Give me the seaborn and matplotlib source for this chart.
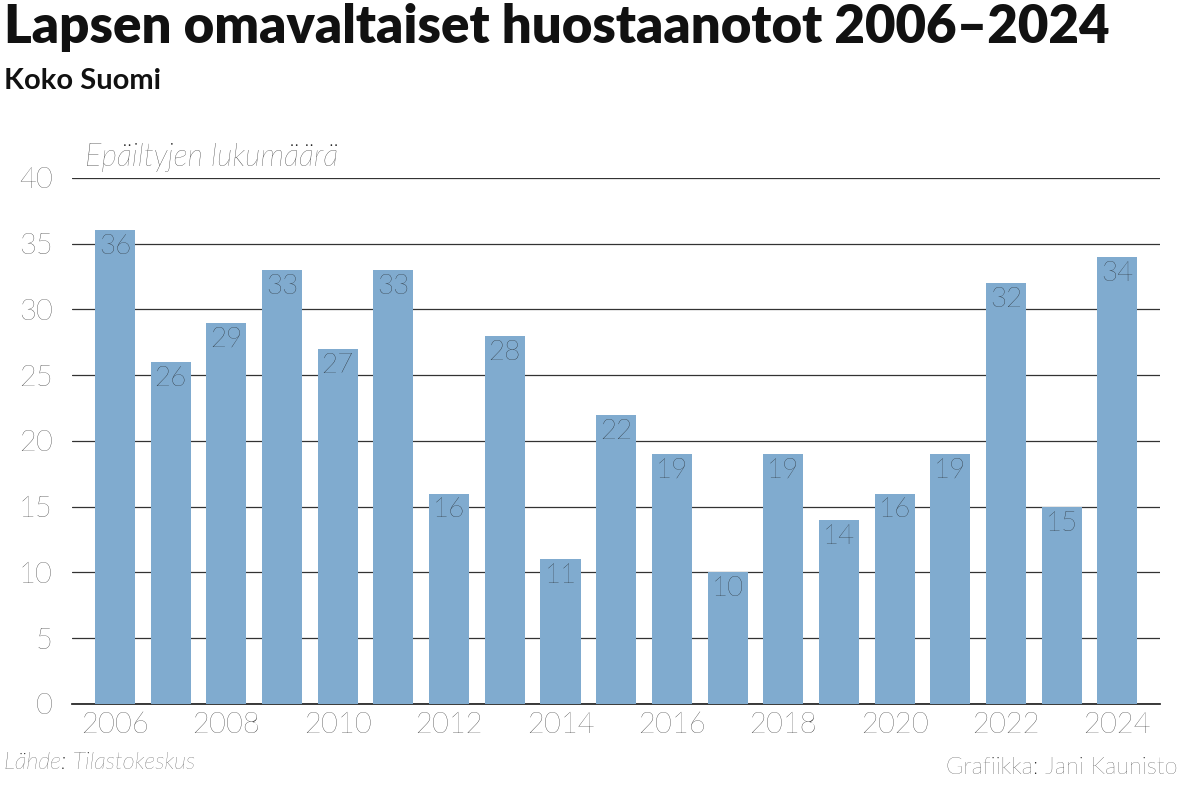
import matplotlib
matplotlib.use("Agg")
import matplotlib.pyplot as plt
import seaborn as sns
import pandas as pd

years = list(range(2006, 2025))
values = [36, 26, 29, 33, 27, 33, 16, 28, 11, 22, 19, 10, 19, 14, 16, 19, 32, 15, 34]
yticks = [0, 5, 10, 15, 20, 25, 30, 35, 40]

sns.set_theme(style="white")
plt.rcParams['font.family'] = ['Lato', 'DejaVu Sans']

df = pd.DataFrame({"year": [str(y) for y in years], "value": values})
fig = plt.figure(figsize=(11.81, 7.87), dpi=100)
ax = fig.add_axes([0.061, 0.1055, 0.921, 0.6685])
sns.barplot(data=df, x="year", y="value", color="#80abcf", saturation=1, width=0.72,
            linewidth=0, ax=ax, zorder=3)
ax.set_xlim(-0.77, 18.76)
ax.set_ylim(0, 40)
ax.set_yticks(yticks)
ax.yaxis.grid(True, color="#333333", linewidth=0.9, zorder=0)
ax.set_axisbelow(True)
for s in ax.spines.values():
    s.set_visible(False)
ax.spines['bottom'].set_visible(True)
ax.spines['bottom'].set_color("#222222")
ax.set_xlabel(""); ax.set_ylabel("")
ax.set_xticks(range(0, 19, 2))
ax.set_xticklabels([str(y) for y in years[::2]])
ax.tick_params(axis='both', labelsize=21, colors="#1a1a1a", length=0, pad=6)
for lab in ax.get_xticklabels() + ax.get_yticklabels():
    lab.set_fontweight('light')
ax.tick_params(axis='y', pad=14)
for i, v in enumerate(values):
    ax.text(i, v - 0.3, str(v), ha='center', va='top', fontsize=20, fontweight='light',
            color="#1a1a1a", zorder=4)

fig.text(0.003, 0.965, "Lapsen omavaltaiset huostaanotot 2006–2024", fontsize=38, fontweight='heavy', va='center', color="#111111")
fig.text(0.003, 0.897, "Koko Suomi", fontsize=21, fontweight='bold', va='center', color="#111111")
fig.text(0.072, 0.800, "Epäiltyjen lukumäärä", fontsize=22, style='italic', fontweight='light', va='center', color="#1a1a1a")
fig.text(0.003, 0.018, "Lähde: Tilastokeskus", fontsize=17, style='italic', fontweight='light', va='bottom', color="#1a1a1a")
fig.text(0.997, 0.012, "Grafiikka: Jani Kaunisto", fontsize=17, fontweight='light', ha='right', va='bottom', color="#1a1a1a")
fig.savefig("out.png", dpi=100, facecolor="white")
